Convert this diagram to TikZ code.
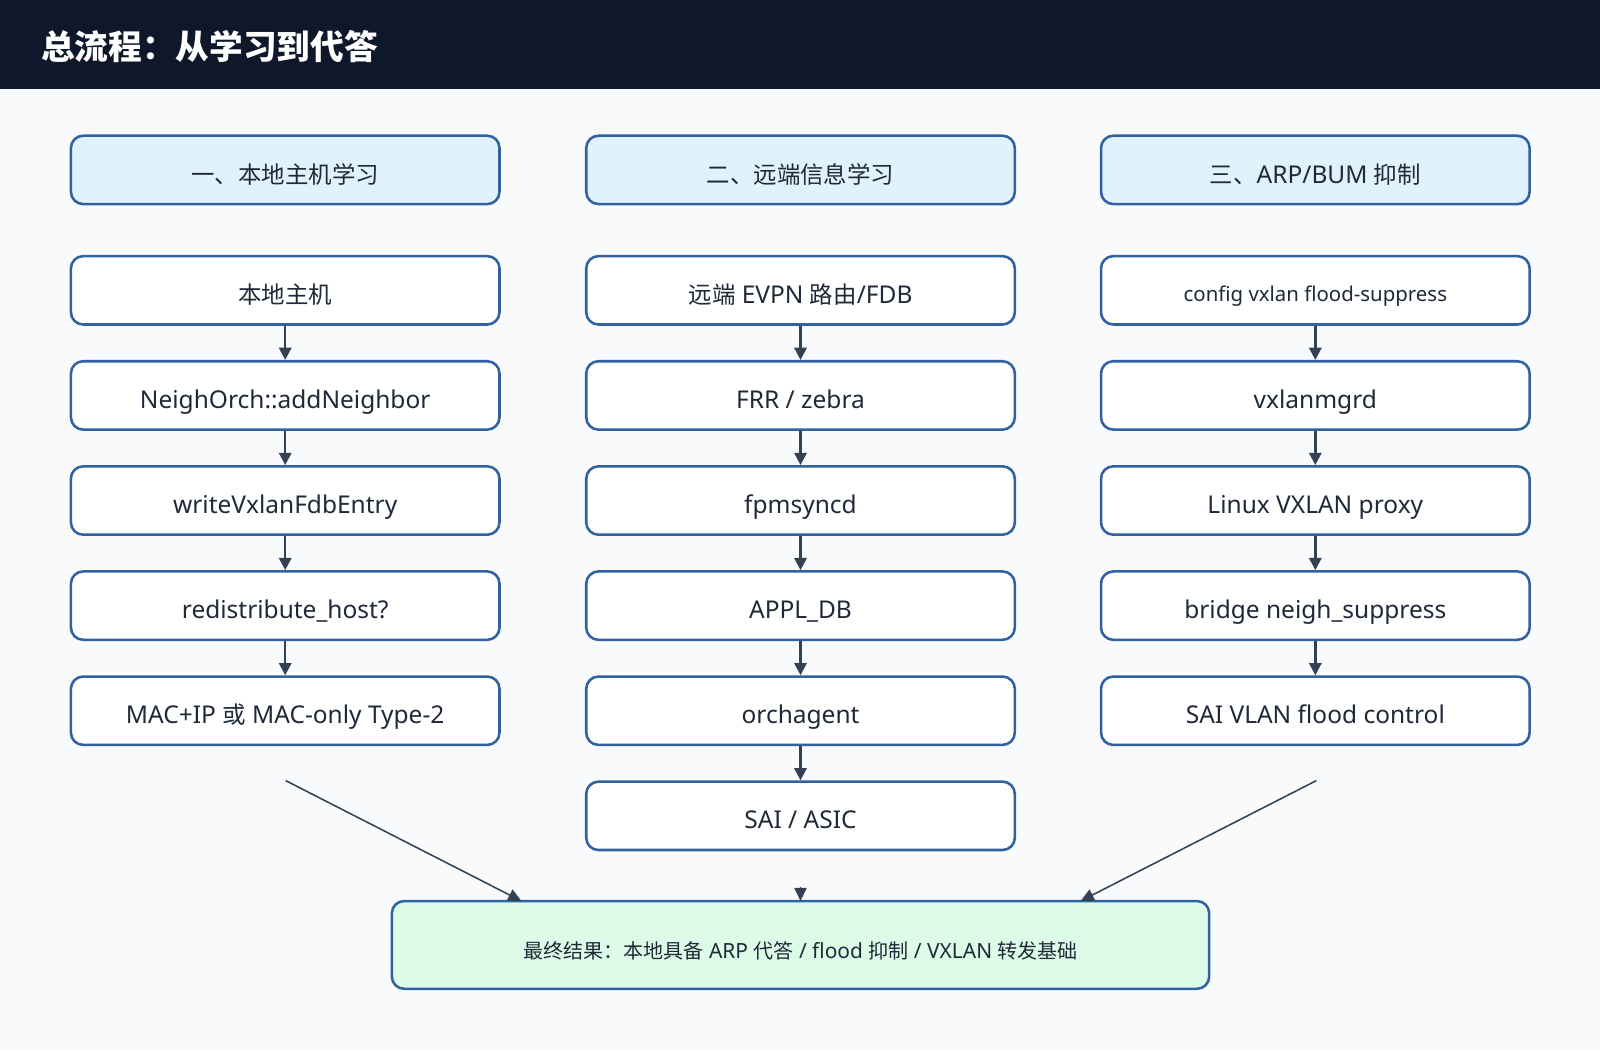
\documentclass[tikz,border=0pt]{standalone}
\usepackage{fontspec}
\setmainfont{Noto Sans}
\newfontfamily\cjk{Noto Sans CJK SC}[Scale=0.958]
\newfontfamily\cjktitle{Noto Sans CJK SC}
\usetikzlibrary{arrows.meta}
\definecolor{bgc}{HTML}{F8FAFC}
\definecolor{barc}{HTML}{0F172A}
\definecolor{bordc}{HTML}{3161A1}
\definecolor{headc}{HTML}{E0F2FE}
\definecolor{finc}{HTML}{DCFCE7}
\definecolor{txtc}{HTML}{1F2937}
\definecolor{arrc}{HTML}{334155}
\tikzset{
  box/.style={draw=bordc, line width=2.5pt, rounded corners=12pt, fill=white,
    minimum width=420pt, minimum height=67pt, inner sep=0pt, text=txtc,
    text height=25pt, text depth=0pt,
    font=\fontsize{24}{28}\selectfont},
  headbox/.style={box, fill=headc, text height=26pt},
  finbox/.style={box, fill=finc, minimum width=801pt, minimum height=86pt,
    text height=27pt, font=\fontsize{20.5}{24}\selectfont},
  arr/.style={draw=arrc, line width=2.5pt, -{Triangle[length=12pt,width=12pt]}},
  darr/.style={draw=arrc, line width=1.5pt, -{Triangle[length=13pt,width=12pt]}}
}
\begin{document}
\begin{tikzpicture}[x=1pt,y=-1pt]
\useasboundingbox (0,0) rectangle (1568,1029);
\fill[bgc] (0,0) rectangle (1568,1029);
\fill[barc] (0,0) rectangle (1568,87);
\node[anchor=west, text=white, font=\cjktitle\fontsize{33}{38}\selectfont\bfseries, inner sep=0pt] (title) at (40,46) {总流程：从学习到代答};

% column 1
\node[headbox] (h1) at (279.5,166.5) {\cjk 一、本地主机学习};
\node[box] (a1) at (279.5,284.5) {\cjk 本地主机};
\node[box] (a2) at (279.5,387.5) {NeighOrch::addNeighbor};
\node[box] (a3) at (279.5,490.5) {writeVxlanFdbEntry};
\node[box] (a4) at (279.5,593.5) {redistribute\_host?};
\node[box] (a5) at (279.5,696.5) {MAC+IP {\cjk 或} MAC-only Type-2};

% column 2
\node[headbox] (h2) at (784.5,166.5) {\cjk 二、远端信息学习};
\node[box] (b1) at (784.5,284.5) {{\cjk 远端} EVPN {\cjk 路由}/FDB};
\node[box] (b2) at (784.5,387.5) {FRR / zebra};
\node[box] (b3) at (784.5,490.5) {fpmsyncd};
\node[box] (b4) at (784.5,593.5) {APPL\_DB};
\node[box] (b5) at (784.5,696.5) {orchagent};
\node[box] (b6) at (784.5,799.5) {SAI / ASIC};

% column 3
\node[headbox] (h3) at (1289,166.5) {{\cjk 三、}ARP/BUM {\cjk 抑制}};
\node[box, font=\fontsize{20}{24}\selectfont, text height=21.5pt] (c1) at (1289,284.5) {config vxlan flood-suppress};
\node[box] (c2) at (1289,387.5) {vxlanmgrd};
\node[box] (c3) at (1289,490.5) {Linux VXLAN proxy};
\node[box] (c4) at (1289,593.5) {bridge neigh\_suppress};
\node[box] (c5) at (1289,696.5) {SAI VLAN flood control};

% final
\node[finbox] (fin) at (784.5,926) {{\cjk 最终结果：本地具备} ARP {\cjk 代答} / flood {\cjk 抑制} / VXLAN {\cjk 转发基础}};

% vertical arrows
\draw[arr] (a1) -- (a2);
\draw[arr] (a2) -- (a3);
\draw[arr] (a3) -- (a4);
\draw[arr] (a4) -- (a5);
\draw[arr] (b1) -- (b2);
\draw[arr] (b2) -- (b3);
\draw[arr] (b3) -- (b4);
\draw[arr] (b4) -- (b5);
\draw[arr] (b5) -- (b6);
\draw[arr] (c1) -- (c2);
\draw[arr] (c2) -- (c3);
\draw[arr] (c3) -- (c4);
\draw[arr] (c4) -- (c5);

% converging arrows
\coordinate (ls) at (280,765);
\coordinate (le) at (511,883);
\coordinate (rs) at (1290,765);
\coordinate (re) at (1059,883);
\coordinate (ms) at (784.5,869);
\coordinate (me) at (784.5,883);
\draw[darr] (ls) -- (le);
\draw[darr] (rs) -- (re);
\draw[darr] (ms) -- (me);
\end{tikzpicture}
\end{document}
